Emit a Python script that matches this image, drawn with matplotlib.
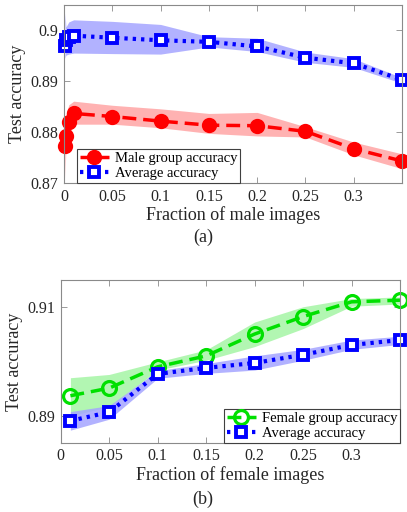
import matplotlib
matplotlib.use("Agg")
import matplotlib.pyplot as plt
import numpy as np

plt.rcParams['font.family'] = ['Liberation Serif', 'DejaVu Serif']
plt.rcParams['mathtext.fontset'] = 'stix'

# ---- Panel (a): male fraction ----
male_x = [0.001, 0.002, 0.005, 0.01, 0.05, 0.1, 0.15, 0.2, 0.25, 0.3, 0.35]
male_acc = [0.8772, 0.8792, 0.8820, 0.8836, 0.8830, 0.8821, 0.8813, 0.8812, 0.8801, 0.8767, 0.8743]
male_lo = [0.8710, 0.8770, 0.8790, 0.8815, 0.8815, 0.8808, 0.8797, 0.8792, 0.8790, 0.8755, 0.8728]
male_hi = [0.8800, 0.8835, 0.8853, 0.8860, 0.8852, 0.8845, 0.8836, 0.8838, 0.8810, 0.8780, 0.8757]
avg_a = [0.8967, 0.8980, 0.8986, 0.8988, 0.8984, 0.8979, 0.8976, 0.8967, 0.8945, 0.8934, 0.8902]
avg_a_lo = [0.8944, 0.8950, 0.8952, 0.8954, 0.8953, 0.8952, 0.8966, 0.8957, 0.8936, 0.8926, 0.8895]
avg_a_hi = [0.9032, 0.9005, 0.9015, 0.9019, 0.9016, 0.9010, 0.8986, 0.8983, 0.8956, 0.8943, 0.8906]

# ---- Panel (b): female fraction ----
fem_x = [0.01, 0.05, 0.1, 0.15, 0.2, 0.25, 0.3, 0.35]
fem_acc = [0.8937, 0.8951, 0.8990, 0.9010, 0.9050, 0.9082, 0.9109, 0.9112]
fem_lo = [0.8900, 0.8917, 0.8984, 0.9002, 0.9027, 0.9060, 0.9101, 0.9105]
fem_hi = [0.8970, 0.8976, 0.8999, 0.9021, 0.9072, 0.9100, 0.9115, 0.9118]
avg_b = [0.8891, 0.8907, 0.8977, 0.8988, 0.8997, 0.9012, 0.9030, 0.9039]
avg_b_lo = [0.8874, 0.8894, 0.8969, 0.8978, 0.8984, 0.9002, 0.9022, 0.9031]
avg_b_hi = [0.8908, 0.8919, 0.8983, 0.8996, 0.9010, 0.9022, 0.9039, 0.9046]

xticks = [0, 0.05, 0.1, 0.15, 0.2, 0.25, 0.3]
xticklabels = ['0', '0.05', '0.1', '0.15', '0.2', '0.25', '0.3']
yticks_a = [0.87, 0.88, 0.89, 0.9]
yticklabels_a = ['0.87', '0.88', '0.89', '0.9']
yticks_b = [0.89, 0.91]
yticklabels_b = ['0.89', '0.91']

W, H = 407, 512
fig = plt.figure(figsize=(W / 100, H / 100), dpi=100)

spine_c = '#8a8a8a'
text_c = '#262626'

def style(ax):
    for s in ax.spines.values():
        s.set_color(spine_c)
        s.set_linewidth(0.8)
    ax.tick_params(direction='in', top=True, right=True, length=4, width=0.6,
                   color=spine_c, labelsize=11.5, labelcolor=text_c, pad=4)

# panel a
ax1 = fig.add_axes([64 / W, 1 - 183 / H, (402 - 64) / W, (183 - 5) / H])
ax1.fill_between(male_x, male_lo, male_hi, color='#ffa5a5', alpha=0.85, lw=0)
ax1.fill_between(male_x, avg_a_lo, avg_a_hi, color='#a5a5ff', alpha=0.85, lw=0)
ax1.plot(male_x, male_acc, color='#ff0000', ls=(0, (4, 2)), lw=2.5, marker='o',
         ms=9.5, mfc='#ff0000', mec='#ff0000', mew=1.5, label='Male group accuracy', clip_on=False)
ax1.plot(male_x, avg_a, color='#0000ff', ls=(0, (0.8, 1.2)), lw=3, marker='s',
         ms=7.5, mfc='white', mec='#0000ff', mew=2.8, label='Average accuracy', clip_on=False)
ax1.set_xlim(0, 0.35)
ax1.set_ylim(0.87, 0.9048)
ax1.set_xticks(xticks)
ax1.set_xticklabels(xticklabels)
ax1.set_yticks(yticks_a)
ax1.set_yticklabels(yticklabels_a)
style(ax1)
ax1.set_xlabel('Fraction of male images', fontsize=13, color=text_c, labelpad=1)
ax1.set_ylabel('Test accuracy', fontsize=13, color=text_c, labelpad=3)
leg1 = ax1.legend(loc='lower left', bbox_to_anchor=(0.038, 0.0), fontsize=10.5,
                  handlelength=2.0, handletextpad=0.4, borderpad=0.2, labelspacing=0.1,
                  fancybox=False, framealpha=1, edgecolor='#404040', borderaxespad=0)
leg1.get_frame().set_linewidth(0.8)
fig.text(203 / W, 1 - 237 / H, '(a)', ha='center', va='center', fontsize=13, color=text_c)

# panel b
ax2 = fig.add_axes([60.7 / W, 1 - 442.7 / H, (400 - 60.7) / W, (442.7 - 280) / H])
ax2.fill_between(fem_x, fem_lo, fem_hi, color='#a5f5a5', alpha=0.85, lw=0)
ax2.fill_between(fem_x, avg_b_lo, avg_b_hi, color='#a5a5ff', alpha=0.85, lw=0)
ax2.plot(fem_x, fem_acc, color='#00e000', ls=(0, (4, 2)), lw=2.5, marker='o',
         ms=10, mfc='none', mec='#00e000', mew=2.3, label='Female group accuracy', clip_on=False)
ax2.plot(fem_x, avg_b, color='#0000ff', ls=(0, (0.8, 1.2)), lw=3, marker='s',
         ms=7.5, mfc='white', mec='#0000ff', mew=2.8, label='Average accuracy', clip_on=False)
ax2.set_xlim(0, 0.35)
ax2.set_ylim(0.8851, 0.9149)
ax2.set_xticks(xticks)
ax2.set_xticklabels(xticklabels)
ax2.set_yticks(yticks_b)
ax2.set_yticklabels(yticklabels_b)
style(ax2)
ax2.set_xlabel('Fraction of female images', fontsize=13, color=text_c, labelpad=1)
ax2.set_ylabel('Test accuracy', fontsize=13, color=text_c, labelpad=3)
leg2 = ax2.legend(loc='lower right', fontsize=10.5,
                  handlelength=2.0, handletextpad=0.4, borderpad=0.2, labelspacing=0.1,
                  fancybox=False, framealpha=1, edgecolor='#404040', borderaxespad=0)
leg2.get_frame().set_linewidth(0.8)
fig.text(203 / W, 1 - 499 / H, '(b)', ha='center', va='center', fontsize=13, color=text_c)

fig.savefig('out.png', dpi=100)
